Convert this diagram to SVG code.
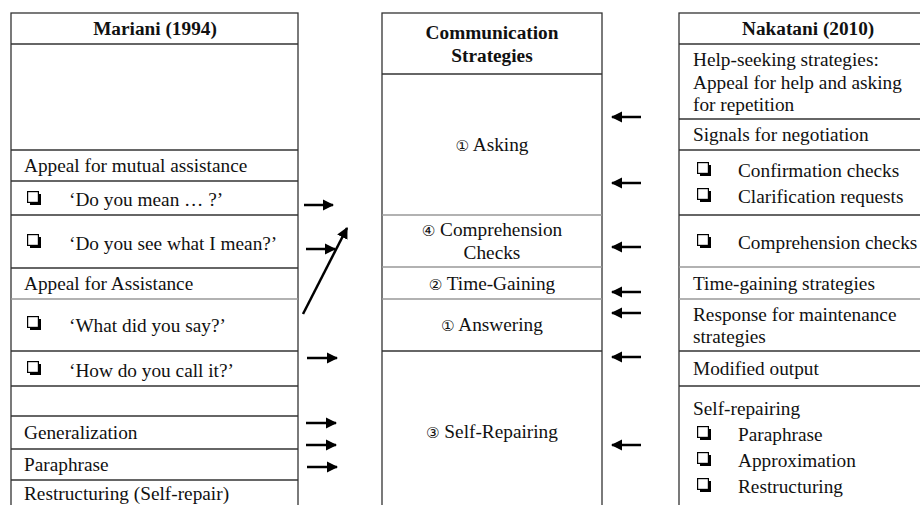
<svg xmlns="http://www.w3.org/2000/svg" width="920" height="505" viewBox="0 0 920 505">
<defs>
<style>
text{font-family:'Liberation Serif','DejaVu Serif','Times New Roman',serif}
.t{font-size:19.3px;fill:#111}
.b{font-weight:bold}
.c{text-anchor:middle}
.n{font-family:'DejaVu Sans','Noto Sans CJK SC',sans-serif}
.frame{fill:#fff;stroke:#333;stroke-width:1.3}
.dk{stroke:#333;stroke-width:1.3}
.gr{stroke:#999;stroke-width:1.5}
.arr{stroke:#000;stroke-width:2.5;fill:none;marker-end:url(#ah)}
</style>
<marker id="ah" viewBox="0 0 10 10" refX="9" refY="5" markerWidth="4.6" markerHeight="4.6" markerUnits="strokeWidth" orient="auto">
<path d="M0,0 L10,5 L0,10 Z" fill="#000"/>
</marker>
<symbol id="box" viewBox="0 0 14 14" width="14" height="14">
<path d="M3,3 H14 V14 H3 Z" fill="#000"/>
<rect x="0.6" y="0.6" width="10.8" height="10.8" fill="#fff" stroke="#000" stroke-width="1.2"/>
</symbol>
</defs>
<rect width="920" height="505" fill="#fff"/>

<g id="mariani">
<rect class="frame" x="11" y="13" width="287" height="500"/>
<line class="dk" x1="11" y1="44" x2="298" y2="44"/>
<line class="dk" x1="11" y1="150" x2="298" y2="150"/>
<line class="dk" x1="11" y1="181" x2="298" y2="181"/>
<line class="dk" x1="11" y1="215" x2="298" y2="215"/>
<line class="dk" x1="11" y1="268" x2="298" y2="268"/>
<line class="gr" x1="11" y1="299" x2="298" y2="299"/>
<line class="dk" x1="11" y1="351" x2="298" y2="351"/>
<line class="dk" x1="11" y1="386" x2="298" y2="386"/>
<line class="dk" x1="11" y1="416" x2="298" y2="416"/>
<line class="dk" x1="11" y1="449" x2="298" y2="449"/>
<line class="dk" x1="11" y1="480" x2="298" y2="480"/>
<text class="t b c" x="155" y="35">Mariani (1994)</text>
<text class="t" x="24" y="172">Appeal for mutual assistance</text>
<use href="#box" x="27" y="191"/>
<text class="t" x="69" y="206">‘Do you mean … ?’</text>
<use href="#box" x="27" y="234"/>
<text class="t" x="69" y="250">‘Do you see what I mean?’</text>
<text class="t" x="24" y="290">Appeal for Assistance</text>
<use href="#box" x="27" y="316"/>
<text class="t" x="69" y="332">‘What did you say?’</text>
<use href="#box" x="27" y="361"/>
<text class="t" x="69" y="377">‘How do you call it?’</text>
<text class="t" x="24" y="439">Generalization</text>
<text class="t" x="24" y="471">Paraphrase</text>
<text class="t" x="24" y="500">Restructuring (Self-repair)</text>
</g>

<g id="strategies">
<rect class="frame" x="382" y="13" width="220" height="500"/>
<line class="dk" x1="382" y1="74" x2="602" y2="74"/>
<line class="gr" x1="382" y1="215" x2="602" y2="215"/>
<line class="gr" x1="382" y1="267" x2="602" y2="267"/>
<line class="gr" x1="382" y1="299" x2="602" y2="299"/>
<line class="dk" x1="382" y1="351" x2="602" y2="351"/>
<text class="t b c" x="492" y="39">Communication</text>
<text class="t b c" x="492" y="62">Strategies</text>
<text class="t c" x="492" y="151"><tspan class="n" font-size="15">①</tspan> Asking</text>
<text class="t c" x="492" y="236"><tspan class="n" font-size="15">④</tspan> Comprehension</text>
<text class="t c" x="492" y="259">Checks</text>
<text class="t c" x="492" y="290"><tspan class="n" font-size="15">②</tspan> Time-Gaining</text>
<text class="t c" x="492" y="331"><tspan class="n" font-size="15">①</tspan> Answering</text>
<text class="t c" x="492" y="438"><tspan class="n" font-size="15">③</tspan> Self-Repairing</text>
</g>

<g id="nakatani">
<rect class="frame" x="679" y="13" width="260" height="500"/>
<line class="dk" x1="679" y1="44" x2="920" y2="44"/>
<line class="dk" x1="679" y1="119" x2="920" y2="119"/>
<line class="dk" x1="679" y1="150" x2="920" y2="150"/>
<line class="dk" x1="679" y1="215" x2="920" y2="215"/>
<line class="gr" x1="679" y1="267" x2="920" y2="267"/>
<line class="gr" x1="679" y1="299" x2="920" y2="299"/>
<line class="dk" x1="679" y1="351" x2="920" y2="351"/>
<line class="dk" x1="679" y1="386" x2="920" y2="386"/>
<text class="t b" x="742" y="35">Nakatani (2010)</text>
<text class="t" x="693" y="66">Help-seeking strategies:</text>
<text class="t" x="693" y="89">Appeal for help and asking</text>
<text class="t" x="693" y="111">for repetition</text>
<text class="t" x="693" y="141">Signals for negotiation</text>
<use href="#box" x="697" y="162"/>
<text class="t" x="738" y="177">Confirmation checks</text>
<use href="#box" x="697" y="188"/>
<text class="t" x="738" y="203">Clarification requests</text>
<use href="#box" x="697" y="234"/>
<text class="t" x="738" y="249">Comprehension checks</text>
<text class="t" x="693" y="290">Time-gaining strategies</text>
<text class="t" x="693" y="321">Response for maintenance</text>
<text class="t" x="693" y="343">strategies</text>
<text class="t" x="693" y="375">Modified output</text>
<text class="t" x="693" y="415">Self-repairing</text>
<use href="#box" x="697" y="426"/>
<text class="t" x="738" y="441">Paraphrase</text>
<use href="#box" x="697" y="452"/>
<text class="t" x="738" y="467">Approximation</text>
<use href="#box" x="697" y="478"/>
<text class="t" x="738" y="493">Restructuring</text>
</g>

<g id="connectors">
<line class="arr" x1="304" y1="205" x2="333" y2="205"/>
<line class="arr" x1="306" y1="249" x2="335" y2="249"/>
<line class="arr" x1="303" y1="314" x2="347" y2="228"/>
<line class="arr" x1="307" y1="358" x2="337" y2="358"/>
<line class="arr" x1="306" y1="423" x2="336" y2="423"/>
<line class="arr" x1="306" y1="445" x2="336" y2="445"/>
<line class="arr" x1="307" y1="467" x2="337" y2="467"/>
<line class="arr" x1="641" y1="117" x2="612" y2="117"/>
<line class="arr" x1="641" y1="183" x2="612" y2="183"/>
<line class="arr" x1="641" y1="247" x2="612" y2="247"/>
<line class="arr" x1="641" y1="292" x2="612" y2="292"/>
<line class="arr" x1="641" y1="313" x2="612" y2="313"/>
<line class="arr" x1="641" y1="357" x2="612" y2="357"/>
<line class="arr" x1="641" y1="445" x2="612" y2="445"/>
</g>
</svg>
